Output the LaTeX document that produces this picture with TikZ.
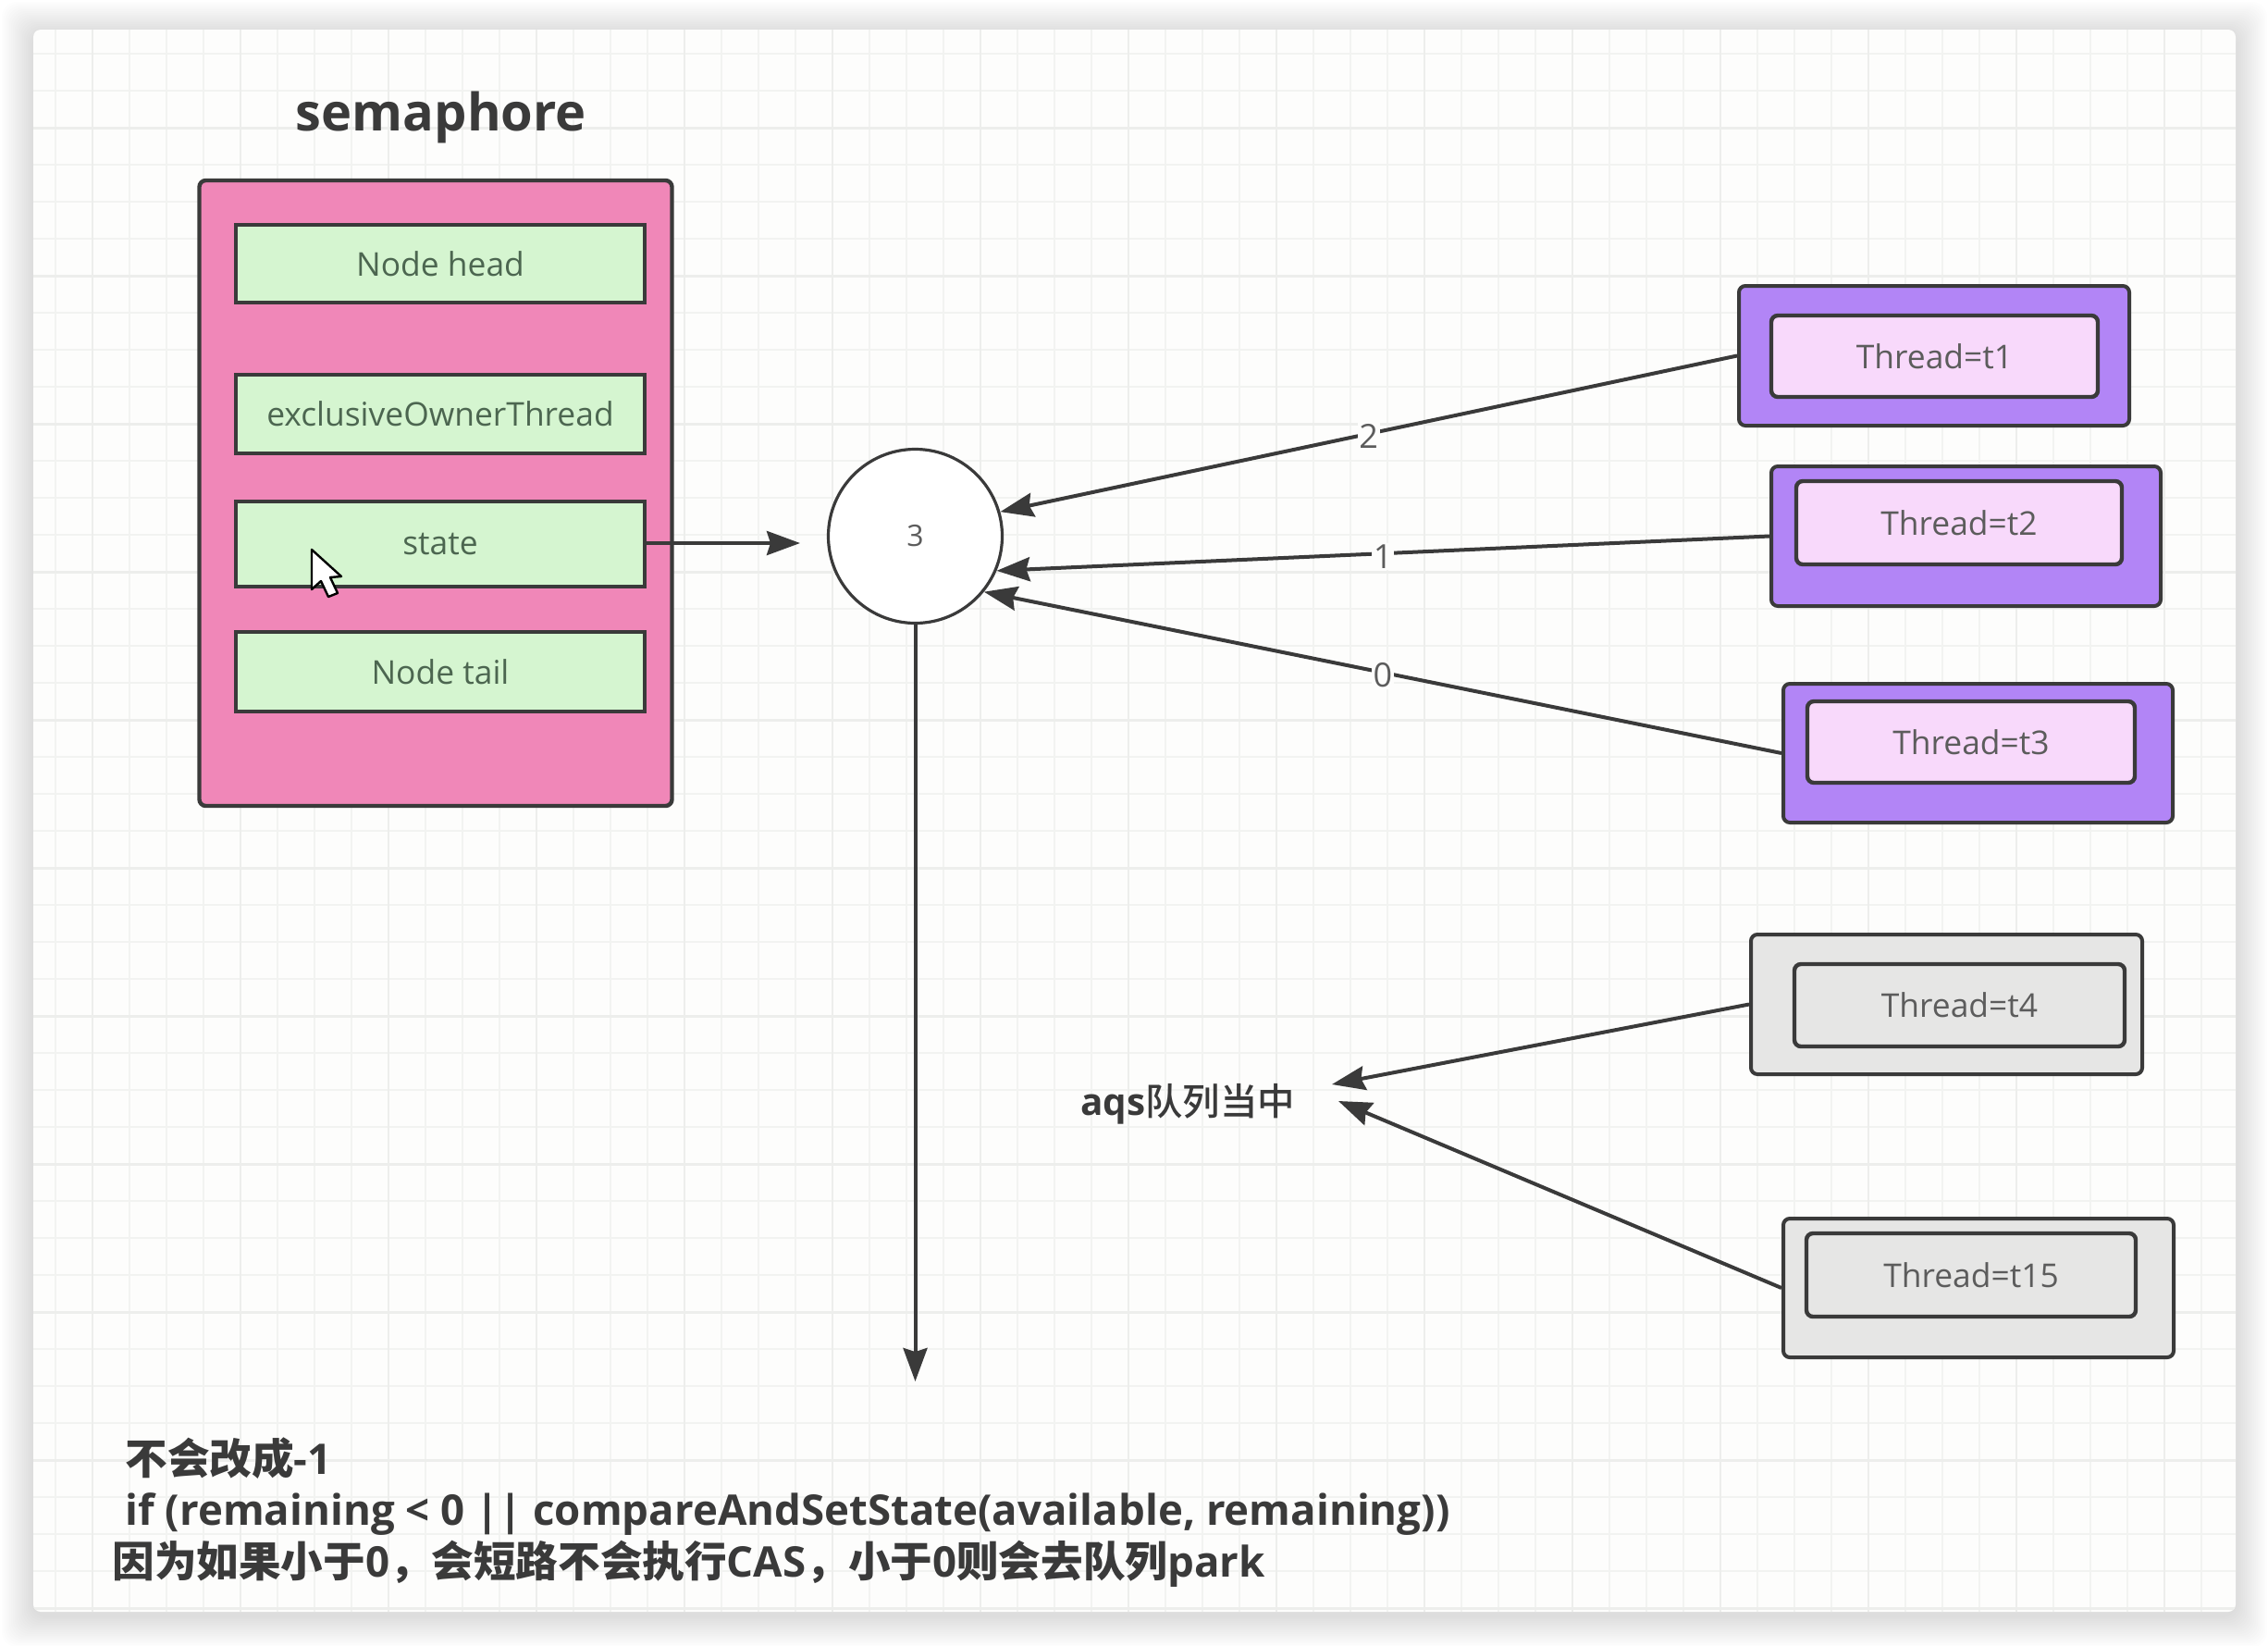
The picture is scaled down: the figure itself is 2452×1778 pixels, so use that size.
\documentclass[tikz,border=0pt]{standalone}
\usepackage{fontspec}
\setmainfont{Open Sans}
\newfontfamily\cjkfont{Noto Sans CJK SC}[BoldFont={Noto Sans CJK SC Medium}]
\newfontfamily\cjknote{Noto Sans CJK SC Bold}
\usetikzlibrary{arrows.meta}
\definecolor{sheetbg}{HTML}{FDFDFC}
\definecolor{gridlo}{HTML}{F2F3F1}
\definecolor{gridhi}{HTML}{EDEEEC}
\definecolor{inkdark}{HTML}{3A3A3A}
\definecolor{inkmuted}{HTML}{5C5C5C}
\definecolor{semabg}{HTML}{F087B8}
\definecolor{fieldbg}{HTML}{D5F5D0}
\definecolor{fieldtx}{HTML}{4C6650}
\definecolor{purplebg}{HTML}{B285F6}
\definecolor{lilacbg}{HTML}{F8D9FB}
\definecolor{greybg}{HTML}{E6E6E5}
\tikzset{
  x=0.5pt,y=-0.5pt,
  semabox/.style={draw=inkdark,fill=semabg,rounded corners=3.5pt,line width=2.2pt,
                  inner sep=0pt},
  fieldbox/.style={draw=inkdark,fill=fieldbg,line width=2.2pt,inner sep=0pt,
                   text=fieldtx,font=\fontsize{17.7}{22}\selectfont},
  outerbox/.style={draw=inkdark,rounded corners=3.5pt,line width=2pt,inner sep=0pt},
  innerbox/.style={draw=inkdark,rounded corners=3.5pt,line width=2.2pt,inner sep=0pt,
                   text=inkmuted,font=\fontsize{17.7}{22}\selectfont},
  countnode/.style={circle,draw=inkdark,fill=white,line width=1.6pt,
                    minimum size=94pt,inner sep=0pt,text=inkmuted,
                    font=\fontsize{16}{20}\selectfont},
  arrowmain/.style={-{Stealth[length=18pt,width=13pt,inset=2pt]},line width=2pt,
                    draw=inkdark},
  edgelabel/.style={fill=sheetbg,inner sep=0.8pt,text=inkmuted,yshift=-1.5pt,
                    font=\fontsize{18}{22}\selectfont},
  notetext/.style={anchor=base west,inner sep=0pt,text=inkdark,
                   font=\fontsize{22.8}{26}\selectfont\bfseries},
}

\begin{document}
\begin{tikzpicture}
  \useasboundingbox (0,0) rectangle (2452,1778);
  % soft shadow round the sheet
  \foreach \g in {2,4,...,34}{
    \fill[black,opacity=0.009,rounded corners=8pt]
      (36-\g,36-\g) rectangle (2417+\g,1746+\g);
  }
  \fill[sheetbg,rounded corners=4pt] (36,32) rectangle (2417,1742);
  % grid
  \begin{scope}
    \clip[rounded corners=4pt] (36,32) rectangle (2417,1742);
    \foreach \x in {60,100,...,2400} \draw[gridlo,line width=0.8pt] (\x,32) -- (\x,1742);
    \foreach \y in {58,98,...,1740} \draw[gridlo,line width=0.8pt] (36,\y) -- (2417,\y);
    \foreach \x in {100,260,...,2400} \draw[gridhi,line width=1.2pt] (\x,32) -- (\x,1742);
    \foreach \y in {138,298,...,1740} \draw[gridhi,line width=1.5pt] (36,\y) -- (2417,\y);
  \end{scope}

  \node[text=inkdark,font=\fontsize{28}{32}\selectfont\bfseries] (title) at (477,127) {semaphore};
  \node[semabox,minimum width=511*0.5pt,minimum height=676*0.5pt] (sema) at (471,533) {};

  \foreach \n/\cy/\h/\ttl in {%
    head/285/84/{Node head},%
    owner/447.5/85/{exclusiveOwnerThread},%
    state/588/92/{state},%
    tail/726/86/{Node tail}%
  }{
    \node[fieldbox,minimum width=442*0.5pt,minimum height=\h*0.5pt] (f\n) at (476,\cy) {\ttl};
  }

  \node[countnode] (count) at (989.5,579.5) {3};
  \coordinate (stateend) at (865,587);
  \draw[arrowmain] (fstate.east |- stateend) -- (stateend);
  \coordinate (downend) at (989.5,1493);
  \draw[arrowmain] (count.south) -- (downend);

  % threads: outer box, inner box
  \foreach \n/\ox/\oy/\ow/\oh/\ix/\iy/\iw/\ih/\obg/\ibg/\ttl in {%
    a/2091/384.5/422/151/2091.5/385/353/88/purplebg/lilacbg/{Thread=t1},%
    b/2125.5/579.5/421/151/2118/565/352/90/purplebg/lilacbg/{Thread=t2},%
    c/2138.5/814/421/150/2131/802/354/88/purplebg/lilacbg/{Thread=t3},%
    d/2104.5/1085.5/423/151/2118.5/1086.5/357/89/greybg/greybg/{Thread=t4},%
    e/2139/1392/422/150/2131/1378/356/90/greybg/greybg/{Thread=t15}%
  }{
    \node[outerbox,fill=\obg,minimum width=\ow*0.5pt,minimum height=\oh*0.5pt] (o\n) at (\ox,\oy) {};
    \node[innerbox,fill=\ibg,minimum width=\iw*0.5pt,minimum height=\ih*0.5pt] (i\n) at (\ix,\iy) {\ttl};
  }

  \draw[arrowmain] (oa.west) -- (count.16) node[edgelabel,midway] (la) {2};
  \draw[arrowmain] (ob.west) -- (count.-23) node[edgelabel,midway] (lb) {1};
  \draw[arrowmain] (oc.west) -- (count.-39) node[edgelabel,midway] (lc) {0};

  \node[text=inkdark,inner sep=0pt,font=\fontsize{20.2}{24}\selectfont\bfseries] (aqs) at (1284,1193)
    {aqs{\cjkfont 队列当中}};
  \coordinate (aqsup) at (1440,1172);
  \coordinate (aqsdown) at (1447,1190);
  \draw[arrowmain] (od.west) -- (aqsup);
  \draw[arrowmain] (oe.west) -- (aqsdown);

  % note at the foot
  \node[notetext] (noteone) at (135,1593) {{\cjknote 不会改成}-1};
  \node[notetext] (notetwo) at (135,1648) {if (remaining < 0 || compareAndSetState(available, remaining))};
  \node[notetext] (notethree) at (121,1704)
    {{\cjknote 因为如果小于}0{\cjknote ，会短路不会执行}CAS{\cjknote ，小于}0{\cjknote 则会去队列}park};

  % mouse pointer
  \draw[fill=white,draw=black,line width=1.2pt,line join=round]
    (337,594) -- (337,637) -- (347,628) -- (355,645) -- (365,641) -- (357,624) -- (369,623) -- cycle;
\end{tikzpicture}
\end{document}
